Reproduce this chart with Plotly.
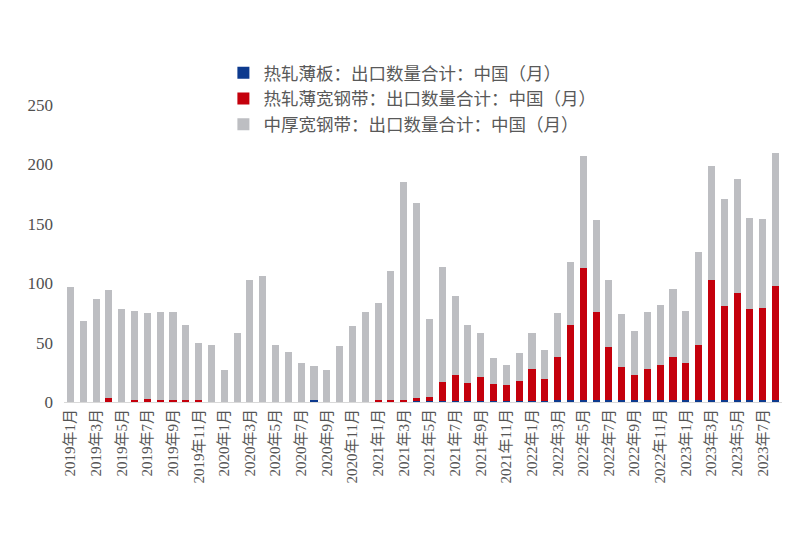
import plotly.graph_objects as go

months = [f"{y}年{m}月" for y in range(2019, 2024) for m in range(1, 13)][:56]

blue = [0, 0, 0, 0, 0, 0, 0, 0, 0, 0, 0, 0,
        0, 0, 0, 0, 0, 0, 0, 1.5, 0, 0, 0, 0,
        0, 0, 0, 1, 1, 1, 1, 1, 1, 1, 1, 1,
        1, 1, 1.5, 2, 2, 2, 1.5, 2, 1.5, 1.5, 1.5, 1.5,
        1.5, 1.5, 2, 2, 2, 2, 2, 2]

red = [0, 0, 0, 3, 0, 1.5, 2.5, 1.5, 1.5, 1.5, 1.5, 0,
       0, 0, 0, 0, 0, 0, 0, 0, 0, 0, 0, 0,
       1.5, 1.5, 1.5, 2, 3.5, 16, 22, 15, 20, 14, 13, 17,
       26.5, 18, 36.5, 63, 110.5, 74, 45, 27.5, 21.5, 26.5, 29.5, 36.5,
       31.5, 46.5, 101, 79, 90, 76, 77, 96]

grey = [97, 68, 87, 91, 78, 75.5, 72.5, 74.5, 74.5, 63.5, 48.5, 48,
        27, 58, 103, 106, 48, 42, 33, 28.5, 27, 47, 64, 76,
        81.5, 108.5, 183.5, 165, 65.5, 97, 66.5, 49, 37, 22, 17, 23,
        30.5, 25, 37, 52.5, 95, 77, 56.5, 44.5, 37, 48, 51, 57.5,
        44, 78, 96, 90, 96, 77, 75, 112]

names = ["热轧薄板：出口数量合计：中国（月）",
         "热轧薄宽钢带：出口数量合计：中国（月）",
         "中厚宽钢带：出口数量合计：中国（月）"]
colors = ["#0d3a8e", "#c4000c", "#bdbec2"]

y_ticks = [0, 50, 100, 150, 200, 250]
x_ticks = months[::2]

fig = go.Figure()
for vals, name, col in zip([blue, red, grey], names, colors):
    fig.add_trace(go.Bar(x=months, y=vals, name=name, marker_color=col,
                         marker_line_width=0))

fig.update_layout(
    barmode="stack",
    bargap=0.45,
    width=800, height=534,
    margin=dict(l=56, r=26, t=52, b=140),
    paper_bgcolor="white",
    plot_bgcolor="white",
    showlegend=True,
    legend=dict(x=0.222, y=1.015, xanchor="left", yanchor="top",
                traceorder="normal",
                font=dict(family="Noto Sans CJK SC", size=17.5, color="#595959"),
                bgcolor="rgba(0,0,0,0)", itemwidth=30),
    xaxis=dict(type="category", tickvals=x_ticks, ticktext=x_ticks,
               tickangle=-90, showgrid=False, showline=True,
               linecolor="#d9d9d9", linewidth=1, ticks="", automargin=False,
               tickfont=dict(family="Liberation Serif, Noto Sans CJK SC", size=15, color="#555555"),
               range=[-0.5, 55.5]),
    yaxis=dict(range=[0, 288], tickvals=y_ticks, showgrid=False,
               zeroline=False, showline=False, ticks="", automargin=False,
               ticklabelstandoff=10,
               tickfont=dict(family="Liberation Serif", size=17, color="#505050")),
)

fig.write_html("out.html")
